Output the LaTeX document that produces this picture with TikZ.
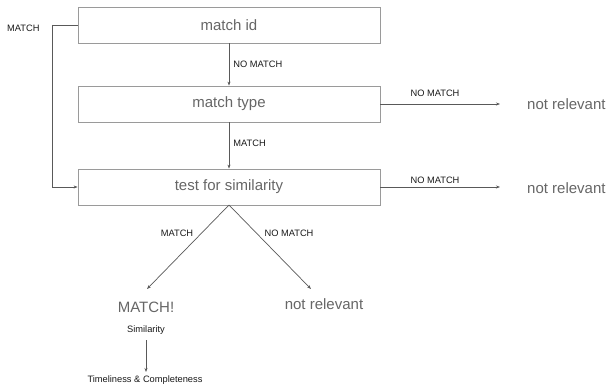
\documentclass[tikz,border=0pt]{standalone}
\usepackage{fontspec}
\setmainfont{Liberation Sans}
\usetikzlibrary{arrows.meta}
\definecolor{boxline}{HTML}{9A9A9A}
\definecolor{bigtext}{HTML}{666666}
\definecolor{arrowc}{HTML}{595959}
\begin{document}
\begin{tikzpicture}[x=1pt,y=-1pt,
  box/.style={draw=boxline, line width=0.8pt, minimum width=302pt, minimum height=36pt, inner sep=0pt, font=\fontsize{15}{17}\selectfont, text=bigtext},
  big/.style={font=\fontsize{15}{17}\selectfont, text=bigtext, inner sep=0pt},
  small/.style={font=\fontsize{9.3}{11}\selectfont, text=black!90, inner sep=0pt},
  arr/.style={draw=arrowc, line width=0.7pt, -{Stealth[length=4pt,width=3pt]}},
  ln/.style={draw=arrowc, line width=0.7pt}]
\useasboundingbox (0,0) rectangle (610,387);
\node[box] (id) at (229,25) {match id};
\node[box] (type) at (229,104) {match type};
\node[box] (sim) at (229,187) {test for similarity};
\node[big, anchor=west] (nr1) at (527,104) {not relevant};
\node[big, anchor=west] (nr2) at (527,188) {not relevant};
\node[big] (m) at (146,307) {MATCH!};
\node[big] (nr3) at (324,304) {not relevant};
\node[small] (simil) at (146,330) {Similarity};
\node[small] (tc) at (145,380) {Timeliness \& Completeness};
\coordinate (t1) at (500,104);
\coordinate (t2) at (500,187);
\coordinate (ml) at (52,25);
\coordinate (ml2) at (52,187);
\coordinate (apex) at (229,205);
\coordinate (lf) at (147,289);
\coordinate (rt) at (311,289);
\coordinate (sa) at (146,340);
\coordinate (sb) at (146,372);
\draw[arr] (id.south) -- (type.north) node[small, pos=0.5, anchor=west, xshift=4pt] {NO MATCH};
\draw[arr] (type.south) -- (sim.north) node[small, pos=0.45, anchor=west, xshift=4pt] {MATCH};
\draw[arr] (type.east) -- (t1);
\node[small] (l1) at (435,93) {NO MATCH};
\draw[arr] (sim.east) -- (t2);
\node[small] (l2) at (435,180) {NO MATCH};
\draw[ln] (id.west) -- (ml);
\draw[arr] (ml) -- (ml2) -- (sim.west);
\node[small, anchor=west] (lm) at (7,28) {MATCH};
\draw[arr] (apex) -- (lf);
\draw[arr] (apex) -- (rt);
\node[small] (l3) at (177,233) {MATCH};
\node[small] (l4) at (289,233) {NO MATCH};
\draw[arr] (sa) -- (sb);
\end{tikzpicture}
\end{document}
